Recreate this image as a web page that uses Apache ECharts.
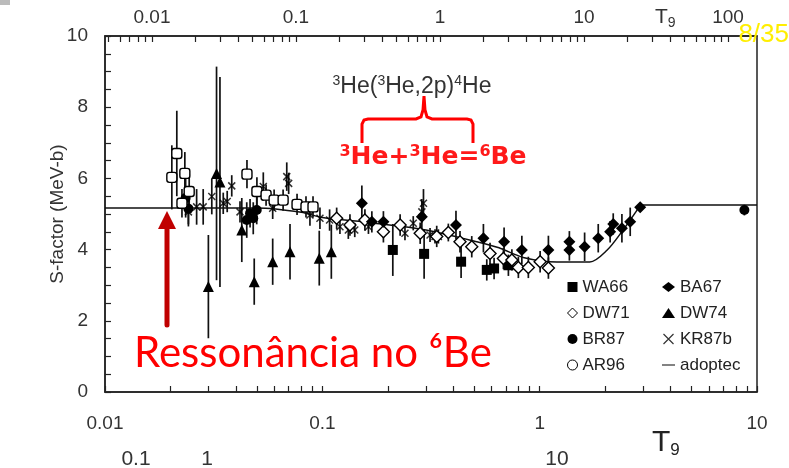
<!DOCTYPE html>
<html>
<head>
<meta charset="utf-8">
<script src="https://cdn.jsdelivr.net/npm/echarts@6/dist/echarts.min.js"></script>
<style>
  html, body {margin: 0; padding: 0; background: #fff;}
  #chart {width: 789px; height: 468px;}
</style>
</head>
<body>
<div id="chart"></div>
<script>
// [E (MeV), S (MeV b), error]
const wa66 = [[0.211,3.99,0.73],[0.294,3.88,0.7],[0.435,3.66,0.46],[0.571,3.43,0.3],[0.617,3.47,0.3],[0.718,3.56,0.3]];
const dw71 = [[0.1164,4.88,0.3],[0.134,4.69,0.3],[0.157,4.83,0.3],[0.191,4.5,0.3],[0.228,4.69,0.3],[0.282,4.46,0.3],
  [0.336,4.37,0.3],[0.38,4.48,0.25],[0.43,4.22,0.3],[0.487,4.08,0.3],[0.591,3.89,0.3],[0.681,3.75,0.3],
  [0.745,3.71,0.3],[0.798,3.5,0.3],[0.887,3.5,0.3],[1.005,3.66,0.3],[1.097,3.48,0.3]];
const br87 = [[0.0235,5.45,0.55],[0.0242,5.15,0.5],[0.0449,4.83,0.5],[0.0465,5.02,0.4],[0.0481,4.88,0.45],[0.0499,5.11,0.4],[8.75,5.11,0.15]];
const ar96 = [[0.0203,6.03,0.9],[0.0214,6.7,1.2],[0.0226,5.3,0.4],[0.0233,6.14,0.6],[0.0244,5.63,0.5],[0.045,6.12,0.4],
  [0.05,5.63,0.4],[0.0551,5.53,0.3],[0.060,5.39,0.3],[0.066,5.39,0.3],[0.0765,5.27,0.3],[0.0841,5.2,0.3],[0.0906,5.2,0.3]];
const ba67 = [[0.152,5.3,0.5],[0.169,4.78,0.3],[0.191,4.78,0.3],[0.287,4.92,0.5],[0.412,4.69,0.4],[0.551,4.32,0.4],
  [0.686,4.22,0.4],[0.828,3.99,0.4],[1.097,3.99,0.4],[1.37,4.22,0.3],[1.37,3.99,0.3],[1.61,4.08,0.4],
  [1.86,4.32,0.4],[2.11,4.5,0.3],[2.18,4.72,0.3],[2.39,4.6,0.4],[2.61,4.78,0.4],[2.9,5.19,0.1]];
const dw74 = [[0.0299,2.96,1.45],[0.0326,6.14,3.0],[0.0338,5.9,2.95],[0.0426,4.55,0.9],[0.0486,3.1,0.65],
  [0.0591,3.66,0.65],[0.071,3.94,0.78],[0.0968,3.76,0.77],[0.110,3.94,0.76]];
const kr87b = [[0.0242,5.06,0.35],[0.0264,5.2,0.5],[0.0283,5.2,0.5],[0.031,5.49,0.5],[0.035,5.3,0.3],[0.0365,5.35,0.3],
  [0.0383,5.79,0.3],[0.0418,5.06,0.3],[0.0535,5.77,0.4],[0.0591,5.16,0.3],[0.0686,6.05,0.4],[0.07,5.86,0.3],
  [0.0877,4.97,0.3],[0.0975,4.88,0.3],[0.108,4.83,0.3],[0.1205,4.64,0.2],[0.1317,4.55,0.25],[0.141,4.55,0.2],
  [0.163,4.64,0.2],[0.24,4.46,0.2],[0.262,4.74,0.2],[0.287,5.06,0.3],[0.292,5.3,0.4],[0.313,4.41,0.2],
  [0.33,4.37,0.2],[0.342,4.37,0.2]];
const adopted = [[0.01,5.17],[0.05,5.17],[0.08,5.05],[0.1,4.9],[0.17,4.75],[0.3,4.55],[0.53,4.2],[0.65,4.05],
  [0.84,3.78],[1.2,3.65],[1.7,3.65],[2.04,3.98],[2.42,4.55],[2.8,5.1],[2.9,5.25],[10,5.25]];

const bottomLabels = [0.01, 0.1, 1, 10];
const topLabels = [0.01, 0.1, 1, 10, 100];
const decadeTicks = (from, to) => {
  const out = [];
  for (let p = from; p <= to; p++) for (let m = 1; m <= 9; m++) out.push(+(m * Math.pow(10, p)).toPrecision(3));
  return out;
};
const bottomTicks = decadeTicks(-2, 0).concat([10]);
const topTicks = decadeTicks(-3, 2).filter(v => v >= 0.0048 && v <= 155);

const FONT = 'Liberation Sans';
const INK = '#222';
const TXT = '#333';
const cross = 'path://M0,0L10,10M10,0L0,10';

const chart = echarts.init(document.getElementById('chart'));

const errSeries = (data) => ({
  type: 'custom',
  silent: true,
  z: 2,
  data: data.map(d => [d[0], d[1] - d[2], d[1] + d[2]]),
  encode: {x: 0, y: [1, 2]},
  renderItem(params, api) {
    const a = api.coord([api.value(0), api.value(1)]);
    const b = api.coord([api.value(0), api.value(2)]);
    return {type: 'line', shape: {x1: a[0], y1: a[1], x2: b[0], y2: b[1]},
      style: {stroke: '#111', lineWidth: 1.7}};
  }
});
const pts = (name, data, symbol, size, fill, extra) => Object.assign({
  name, type: 'scatter', z: 4,
  data: data.map(d => [d[0], d[1]]),
  symbol, symbolSize: size,
  itemStyle: {color: fill, borderColor: '#000', borderWidth: fill === '#000' ? 0 : 1.4, opacity: 1}
}, extra || {});

// superscript helper for rich text
const sup = (size, color, bold) => ({fontSize: size, fontFamily: FONT, fill: color, fontWeight: bold ? 'bold' : 'normal',
  lineHeight: 30, verticalAlign: 'top', padding: [2, 0, 0, 0]});
const base = (size, color, bold) => ({fontSize: size, fontFamily: FONT, fill: color, fontWeight: bold ? 'bold' : 'normal',
  lineHeight: 30});

chart.setOption({
  animation: false,
  textStyle: {fontFamily: FONT},
  grid: {left: 105, right: 32, top: 36, bottom: 76, show: true, borderColor: INK, borderWidth: 1.5},
  xAxis: [
    {
      type: 'log', min: 0.01, max: 10, position: 'bottom',
      axisLine: {lineStyle: {color: INK, width: 1.5}},
      axisTick: {inside: true, length: 6, customValues: bottomTicks, lineStyle: {color: INK, width: 1.2}},
      axisLabel: {customValues: bottomLabels, margin: 22, fontSize: 19, color: TXT, fontFamily: FONT,
        formatter: v => String(+(+v).toPrecision(3))},
      splitLine: {show: false}, minorTick: {show: false}
    },
    {
      type: 'log', min: 0.00472, max: 159, position: 'top',
      axisLine: {lineStyle: {color: INK, width: 1.5}},
      axisTick: {inside: true, length: 6, customValues: topTicks, lineStyle: {color: INK, width: 1.2}},
      axisLabel: {customValues: topLabels, margin: 9, fontSize: 19, color: TXT, fontFamily: FONT,
        formatter: v => String(+(+v).toPrecision(3))},
      splitLine: {show: false}
    }
  ],
  yAxis: {
    type: 'value', min: 0, max: 10, interval: 0.5,
    name: 'S-factor (MeV-b)', nameLocation: 'middle', nameGap: 38, nameMoveOverlap: false,
    nameTextStyle: {fontSize: 19, color: TXT, fontFamily: FONT},
    axisLine: {show: true, lineStyle: {color: INK, width: 1.5}},
    axisTick: {show: true, inside: true, length: 6, lineStyle: {color: INK, width: 1.2}},
    axisLabel: {fontSize: 19, color: TXT, margin: 17, fontFamily: FONT,
      formatter: v => (Math.abs(v % 2) < 1e-9 ? String(v) : '')},
    splitLine: {show: false}
  },
  legend: [
    {
      data: [
        {name: 'WA66', icon: 'rect'},
        {name: 'DW71', icon: 'diamond', itemStyle: {color: '#fff', borderColor: '#000', borderWidth: 1}},
        {name: 'BR87', icon: 'circle'},
        {name: 'AR96', icon: 'circle', itemStyle: {color: '#fff', borderColor: '#000', borderWidth: 1}}
      ],
      orient: 'vertical', left: 562, top: 273, itemGap: 8, itemWidth: 10, itemHeight: 10,
      textStyle: {fontSize: 17, color: '#222', lineHeight: 18, fontFamily: FONT}, selectedMode: false
    },
    {
      data: [
        {name: 'BA67', icon: 'diamond'},
        {name: 'DW74', icon: 'triangle'},
        {name: 'KR87b', icon: cross, itemStyle: {color: 'none', borderColor: '#000', borderWidth: 1.2}},
        {name: 'adoptec', icon: 'path://M0,0h20v1.6h-20z'}
      ],
      orient: 'vertical', left: 656, top: 273, itemGap: 8, itemWidth: 13, itemHeight: 10,
      textStyle: {fontSize: 17, color: '#222', lineHeight: 18, fontFamily: FONT}, selectedMode: false
    }
  ],
  series: [
    {
      name: 'adoptec', type: 'line', data: adopted, symbol: 'none', smooth: 0.3, z: 1,
      lineStyle: {color: '#111', width: 1.5}, itemStyle: {color: '#111'}
    },
    errSeries(wa66), errSeries(dw71), errSeries(br87), errSeries(ar96),
    errSeries(ba67), errSeries(dw74), errSeries(kr87b),
    pts('KR87b', kr87b, cross, 7, 'none', {itemStyle: {color: 'none', borderColor: '#000', borderWidth: 1.5}}),
    pts('WA66', wa66, 'rect', 10, '#000'),
    pts('DW71', dw71, 'diamond', 12, '#fff'),
    pts('BR87', br87, 'circle', 10, '#000'),
    pts('AR96', ar96, 'roundRect', 10, '#fff'),
    pts('BA67', ba67, 'diamond', 12, '#000'),
    pts('DW74', dw74, 'triangle', 11, '#000')
  ],
  graphic: [
    {type: 'rect', left: 0, top: 0, shape: {width: 10, height: 5}, style: {fill: '#bbb'}},
    {type: 'text', left: 655, top: 7, style: {
      text: '{t|T}{s|9}', rich: {t: {fontSize: 21, fontFamily: FONT, fill: TXT},
        s: {fontSize: 14, fontFamily: FONT, fill: TXT, padding: [12, 0, 0, 0]}}}},
    {type: 'text', right: 0, top: 22, z: 50, style: {text: '8/35', fontSize: 26, fontFamily: FONT, fill: '#ffee00'}},
    {type: 'text', x: 412, y: 87, style: {
      text: '{s|3}{b|He(}{s|3}{b|He,2p)}{s|4}{b|He}', align: 'center', verticalAlign: 'middle',
      rich: {s: sup(14, TXT), b: base(23, TXT)}}},
    {type: 'polyline', z: 10, shape: {points: [[362,143],[362,124],[364,120],[368,119],[416,119],[421,117],[423,110],
      [424,96],[425,110],[427,117],[432,119],[467,119],[471,120],[473,124],[473,143]]},
      style: {fill: 'none', stroke: '#ff0000', lineWidth: 3}},
    {type: 'text', x: 433, y: 157, z: 10, style: {
      text: '{s|3}{b|He+}{s|3}{b|He=}{s|6}{b|Be}', align: 'center', verticalAlign: 'middle',
      rich: {s: Object.assign(sup(16, '#ff1a1a', true), {fontFamily: 'DejaVu Sans'}),
        b: Object.assign(base(25, '#ff1a1a', true), {fontFamily: 'DejaVu Sans'})}}},
    {type: 'line', z: 10, shape: {x1: 167, y1: 325, x2: 167, y2: 222}, style: {stroke: '#c00000', lineWidth: 5, lineCap: 'round'}},
    {type: 'polygon', z: 10, shape: {points: [[167, 211], [158, 229], [176, 229]]}, style: {fill: '#c00000'}},
    {type: 'text', x: 134, y: 353, z: 10, style: {text: 'Ressonância no ⁶Be', fontSize: 42, fontFamily: 'Lato',
      fill: '#ff0000', verticalAlign: 'middle'}},
    {type: 'text', x: 136, y: 459, style: {text: '0.1', fontSize: 21, fontFamily: FONT, fill: TXT, align: 'center', verticalAlign: 'middle'}},
    {type: 'text', x: 207, y: 459, style: {text: '1', fontSize: 21, fontFamily: FONT, fill: TXT, align: 'center', verticalAlign: 'middle'}},
    {type: 'text', x: 557, y: 459, style: {text: '10', fontSize: 21, fontFamily: FONT, fill: TXT, align: 'center', verticalAlign: 'middle'}},
    {type: 'text', left: 652, top: 428, style: {
      text: '{t|T}{s|9}', rich: {t: {fontSize: 30, fontFamily: FONT, fill: '#222'},
        s: {fontSize: 17, fontFamily: FONT, fill: '#222', padding: [15, 0, 0, 0]}}}}
  ]
});
</script>
</body>
</html>
